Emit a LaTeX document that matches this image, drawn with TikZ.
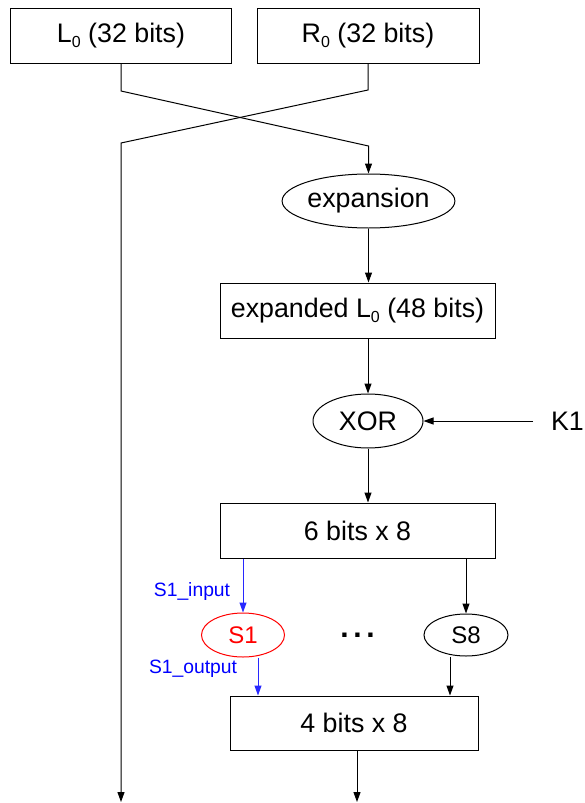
\documentclass[tikz,border=0pt]{standalone}
\usepackage{fontspec}
\setmainfont{Liberation Sans}
\usetikzlibrary{shapes.geometric,arrows.meta}

% lowered subscript zero set in the text font
\newcommand{\subzero}{\raisebox{-5pt}{\fontsize{16}{16}\selectfont 0}}

\begin{document}
\begin{tikzpicture}[x=1pt,y=-1pt,
  mainfont/.style={font=\fontsize{26.8}{30}\selectfont},
  box/.style={draw,line width=1pt,minimum width=#1,minimum height=55pt,inner sep=0pt,mainfont},
  oval/.style 2 args={draw,ellipse,line width=1pt,minimum width=#1,minimum height=#2,inner sep=0pt},
  arr/.style={-{Triangle[length=10pt,width=7pt]},line width=1pt},
  bluearr/.style={arr,draw={rgb,255:red,40;green,40;blue,255}},
  bluelabel/.style={text=blue,font=\fontsize{19.3}{22}\selectfont,inner sep=0pt}
]
\useasboundingbox (0,0) rectangle (584,803);

% top halves
\node[box=221] (L0) at (121,35.5) {L\subzero\ (32 bits)};
\node[box=222] (R0) at (368,35.5) {R\subzero\ (32 bits)};

% round function chain
\node[oval={165pt}{54pt},mainfont] (exp) at (368.5,201) {expansion};
\node[box=275] (expbox) at (357.5,310.5) {expanded L\subzero\ (48 bits)};
\node[oval={110pt}{54pt},mainfont] (xor) at (368,421) {XOR};
\node[mainfont,anchor=east,inner sep=0pt] (K1) at (584,421) {K1};
\node[box=275] (sixbox) at (357.5,530.5) {6 bits x 8};
\node[oval={83pt}{44pt},draw=red,text=red,font=\fontsize{24}{28}\selectfont] (S1) at (243,635) {S1};
\node[font=\bfseries\fontsize{30}{32}\selectfont,inner sep=0pt,anchor=base] (dots) at (357.5,637.5) {.\hspace{4.7pt}.\hspace{4.7pt}.};
\node[oval={84pt}{42pt},font=\fontsize{24}{28}\selectfont] (S8) at (466,635) {S8};
\node[box=248,minimum height=54pt] (fourbox) at (354,723) {4 bits x 8};

% labels on the S-box 1 wires
\node[bluelabel] (s1in) at (192,592) {S1\_input};
\node[bluelabel] (s1out) at (193,669) {S1\_output};

% bend points of the crossing wires and free ends
\coordinate (lbend) at (121,91);
\coordinate (ltarget) at (368.5,146);
\coordinate (rbend) at (368,90);
\coordinate (rturn) at (121,143);
\coordinate (leftend) at (121,802);
\coordinate (kstart) at (533,421);
\coordinate (bottomend) at (357,802);

% crossing of L0 and R0
\draw[arr] (L0.south -| lbend) -- (lbend) -- (ltarget) -- (exp.north);
\draw[arr] (R0.south -| rbend) -- (rbend) -- (rturn) -- (leftend);

% main chain
\draw[arr] (exp.south) -- (exp.south |- expbox.north);
\draw[arr] (expbox.south -| xor.north) -- (xor.north);
\draw[arr] (kstart) -- (xor.east);
\draw[arr] (xor.south) -- (xor.south |- sixbox.north);

% S-boxes
\draw[bluearr] (sixbox.south -| S1.north) -- (S1.north);
\draw[arr] (sixbox.south -| S8.north) -- (S8.north);
\draw[bluearr] ([xshift=15pt]S1.south) -- ([xshift=15pt]S1.south |- fourbox.north);
\draw[arr] ([xshift=-16pt]S8.south) -- ([xshift=-16pt]S8.south |- fourbox.north);

% output
\draw[arr] (fourbox.south -| bottomend) -- (bottomend);
\end{tikzpicture}
\end{document}
